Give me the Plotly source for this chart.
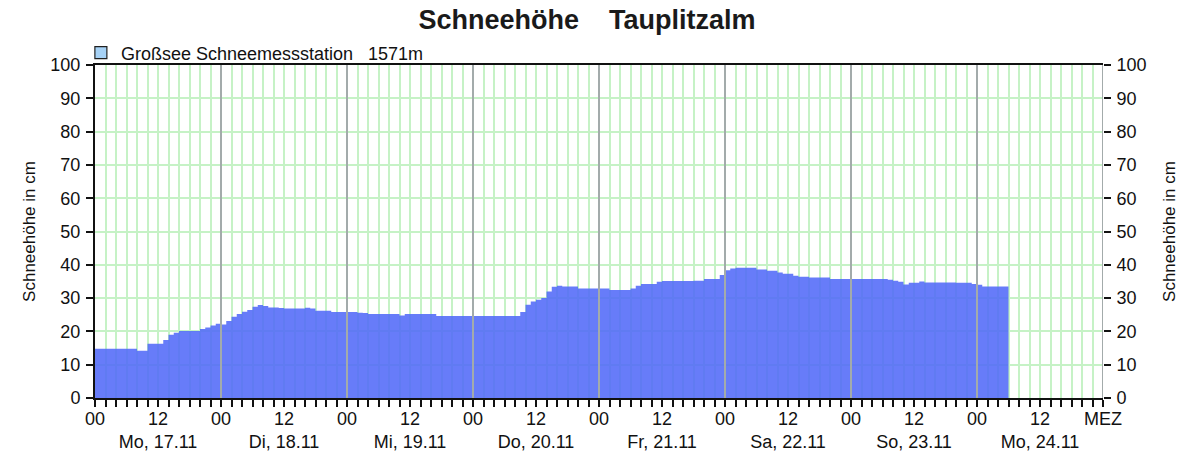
import pandas as pd
import plotly.graph_objects as go

# Hourly snow depth (cm), Großsee Schneemessstation 1571m, from Mo 17.11 00:00
day_mo17 = [14.8]*8 + [14.2]*2 + [16.3]*3 + [17.4, 19.0, 19.6] + [20.1]*4 + [20.7, 21.2, 21.8, 22.3]
day_di18 = [22.1, 23.1, 24.4, 25.2, 25.9, 26.4, 27.4, 27.9, 27.6, 27.2, 27.2, 27.0] + [26.9]*4 + [27.1, 26.9] + [26.2]*3 + [25.8]*3
day_mi19 = [25.8, 25.8, 25.6, 25.5] + [25.2]*6 + [24.8] + [25.2]*6 + [24.6]*7
day_do20 = [24.6]*9 + [25.8, 28.0, 29.0, 29.5, 30.0, 32.0, 33.4, 33.7] + [33.5]*3 + [32.9]*4
day_fr21 = [32.9]*2 + [32.4]*4 + [32.9, 33.7] + [34.2]*3 + [34.9] + [35.1]*6 + [35.2]*2 + [35.7]*3 + [36.9]
day_sa22 = [38.4, 38.9] + [39.1]*4 + [38.6]*2 + [38.2]*2 + [37.7] + [37.3]*2 + [36.7] + [36.4]*2 + [36.2]*4 + [35.7]*4
day_so23 = [35.7]*7 + [35.5, 35.2, 34.9, 34.1] + [34.6]*2 + [35.0] + [34.7]*6 + [34.6]*3 + [34.2]
day_mo24 = [34.0] + [33.5]*5

day_labels = ["Mo, 17.11", "Di, 18.11", "Mi, 19.11", "Do, 20.11",
              "Fr, 21.11", "Sa, 22.11", "So, 23.11", "Mo, 24.11"]
series_name = "Großsee Schneemessstation\u00a0\u00a0\u00a01571m"

values = day_mo17 + day_di18 + day_mi19 + day_do20 + day_fr21 + day_sa22 + day_so23 + day_mo24
start = pd.Timestamp("2025-11-17 00:00")
n_days = len(day_labels)
times = pd.date_range(start, periods=len(values) + 1, freq="h")
y_step = values + [values[-1]]

# tick values every 12 h, labels 00 / 12 + day, MEZ at the end
tickvals, ticktext = [], []
for d in range(n_days):
    tickvals.append(start + pd.Timedelta(days=d))
    ticktext.append("00")
    tickvals.append(start + pd.Timedelta(days=d, hours=12))
    ticktext.append("12<br>" + day_labels[d])
tickvals.append(start + pd.Timedelta(days=n_days))
ticktext.append("MEZ")

FONT = "Liberation Sans"
GREEN = "#c6f2c6"
BLUE = "rgba(82,106,248,0.88)"

fig = go.Figure()
fig.add_trace(go.Scatter(
    x=times, y=y_step, mode="lines", line=dict(width=0, shape="hv"),
    fill="tozeroy", fillcolor=BLUE, showlegend=False, hoverinfo="skip"))
fig.add_trace(go.Bar(
    x=[None], y=[None], name=series_name, yaxis="y2",
    marker=dict(color="#a6d2f6", line=dict(color="#202020", width=1.2)),
    showlegend=True))

shapes = []
for d in range(1, n_days + 1):
    xd = start + pd.Timedelta(days=d)
    shapes.append(dict(type="line", xref="x", yref="y domain", x0=xd, x1=xd, y0=0, y1=1,
                       line=dict(color="#a3abab", width=2), layer="above"))

tickfont = dict(family=FONT, size=18, color="#111111")
fig.update_layout(
    width=1200, height=464, autosize=False,
    margin=dict(l=95, r=97, t=65, b=66, pad=0, autoexpand=False),
    paper_bgcolor="white", plot_bgcolor="white",
    title=dict(text="Schneehöhe\u00a0\u00a0\u00a0\u00a0Tauplitzalm", x=587/1200, xref="container",
               xanchor="center", y=1 - 20/464, yref="container", yanchor="middle",
               font=dict(family=FONT, size=27, color="#1a1a1a", weight="bold")),
    showlegend=True,
    legend=dict(x=-0.014, xanchor="left", y=1 + 12/333, yanchor="middle",
                orientation="h", font=dict(family=FONT, size=18, color="#111111"),
                bgcolor="rgba(0,0,0,0)", borderwidth=0),
    shapes=shapes,
    xaxis=dict(
        type="date", range=[start, start + pd.Timedelta(days=n_days)],
        tickmode="array", tickvals=tickvals, ticktext=ticktext, tickangle=0,
        ticks="outside", ticklen=7, tickwidth=1.5, tickcolor="#111111",
        tickfont=tickfont, ticklabelstandoff=-4, automargin=False,
        showline=True, linecolor="#111111", linewidth=2, mirror=True,
        showgrid=True, gridcolor=GREEN, gridwidth=2,
        minor=dict(tickmode="linear", tick0=start, dtick=2*3600*1000,
                   ticks="outside", ticklen=7, tickwidth=1.5, tickcolor="#111111",
                   showgrid=True, gridcolor=GREEN, gridwidth=2),
        zeroline=False, fixedrange=True),
    yaxis=dict(
        range=[0, 100], dtick=10, tick0=0, ticks="outside", ticklen=7, tickwidth=1.5,
        tickcolor="#111111", tickfont=tickfont, ticklabelstandoff=2, automargin=False,
        showline=True, linecolor="#111111", linewidth=2,
        showgrid=True, gridcolor=GREEN, gridwidth=2, zeroline=False,
        title=dict(text="Schneehöhe in cm", standoff=10,
                   font=dict(family=FONT, size=17, color="#111111"))),
    yaxis2=dict(
        overlaying="y", side="right", range=[0, 100], dtick=10, tick0=0,
        ticks="outside", ticklen=7, tickwidth=1.5, tickcolor="#111111",
        tickfont=tickfont, ticklabelstandoff=2, automargin=False,
        showline=False, showgrid=False, zeroline=False,
        title=dict(text="Schneehöhe in cm", standoff=17,
                   font=dict(family=FONT, size=17, color="#111111"))),
)

fig.write_html("out.html", config={"displayModeBar": False},
               post_script="document.body.style.margin='0';")
